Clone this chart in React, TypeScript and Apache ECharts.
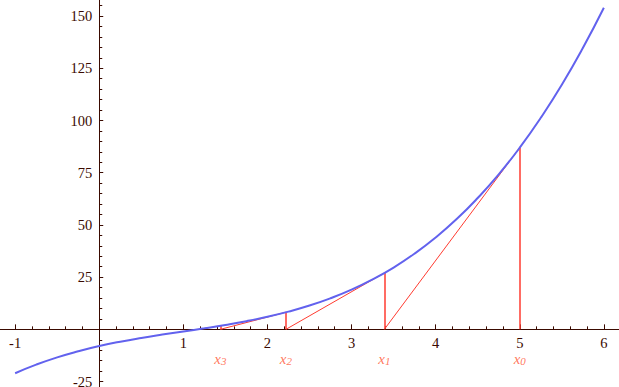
import React, { useEffect, useRef } from "react";
import * as echarts from "echarts";

// Curve f(x)
const curveX = [-1, -0.75, -0.5, -0.25, 0, 0.25, 0.5, 0.75, 1, 1.25, 1.5, 1.75, 2, 2.25, 2.5, 2.75, 3, 3.25, 3.5, 3.75, 4, 4.25, 4.5, 4.75, 5, 5.25, 5.5, 5.75, 6];
const curveY = [-21, -16.9, -13.4, -10.5, -8, -5.9, -4.1, -2.5, -1, 0.5, 2.1, 3.9, 6, 8.5, 11.4, 14.9, 19, 23.9, 29.6, 36.3, 44, 52.8, 62.9, 74.2, 87, 101.3, 117.1, 134.7, 154];

// Newton iterates x0..x3 and f at them
const newtonX = [5, 3.39, 2.22, 1.44];
const newtonY = [87, 27, 8.2, 1.7];
const newtonNames = ["0", "1", "2", "3"];

// Tick labels
const xMajorTicks = [-1, 1, 2, 3, 4, 5, 6];
const yMajorTicks = [-25, 25, 50, 75, 100, 125, 150];

const xMinorTicks = Array.from({ length: 36 }, (_, i) => Math.round((-1 + i * 0.2) * 10) / 10).filter((v) => v !== 0);
const yMinorTicks = Array.from({ length: 37 }, (_, i) => -25 + i * 5).filter((v) => v !== 0);

const AXIS = "#3a0a00";
const RED = "#ff3b30";
const BLUE = "#6262ee";
const LABEL_RED = "#ff5533";
const FONT = "serif";

const W = 619;
const H = 387;
const X_MIN = -1.18;
const X_MAX = 6.18;
const Y_MIN = -27.6;
const Y_MAX = 157.7;

export default function App() {
  const ref = useRef<HTMLDivElement>(null);
  useEffect(() => {
    if (!ref.current) return;
    const chart = echarts.init(ref.current, undefined, { renderer: "svg" });

    const verticals: any[] = [];
    const tangents: any[] = [];
    for (let i = 0; i < newtonX.length; i++) {
      verticals.push({ coords: [[newtonX[i], 0], [newtonX[i], newtonY[i]]] });
      if (i + 1 < newtonX.length) {
        tangents.push({ coords: [[newtonX[i], newtonY[i]], [newtonX[i + 1], 0]] });
      }
    }

    // place axes where the other axis is zero
    const zeroYpx = (H * Y_MAX) / (Y_MAX - Y_MIN);
    const zeroXpx = (W * -X_MIN) / (X_MAX - X_MIN);
    const xOffset = -(H - zeroYpx);
    const yOffset = -zeroXpx;

    const baseX = (extra: any) => ({
      type: "value",
      position: "bottom",
      offset: xOffset,
      min: X_MIN,
      max: X_MAX,
      splitLine: { show: false },
      axisLine: { show: true, onZero: false, lineStyle: { color: AXIS, width: 1 } },
      ...extra,
    });
    const baseY = (extra: any) => ({
      type: "value",
      position: "left",
      offset: yOffset,
      min: Y_MIN,
      max: Y_MAX,
      splitLine: { show: false },
      axisLine: { show: true, onZero: false, lineStyle: { color: AXIS, width: 1 } },
      ...extra,
    });

    chart.setOption({
      animation: false,
      backgroundColor: "#ffffff",
      textStyle: { fontFamily: FONT },
      grid: { left: 0, right: 0, top: 0, bottom: 0, containLabel: false, outerBoundsMode: "none" },
      xAxis: [
        baseX({
          axisTick: { show: true, inside: true, length: 5, customValues: xMajorTicks, lineStyle: { color: AXIS } },
          axisLabel: {
            show: true,
            customValues: xMajorTicks,
            margin: 6,
            color: AXIS,
            fontFamily: FONT,
            fontSize: 14.5,
            formatter: (v: number) => String(Math.round(v)),
          },
        }),
        baseX({
          axisTick: { show: true, inside: true, length: 3, customValues: xMinorTicks, lineStyle: { color: AXIS } },
          axisLabel: { show: false },
        }),
      ],
      yAxis: [
        baseY({
          axisTick: { show: true, inside: true, length: 4, customValues: yMajorTicks, lineStyle: { color: AXIS } },
          axisLabel: {
            show: true,
            customValues: yMajorTicks,
            margin: 7,
            color: AXIS,
            fontFamily: FONT,
            fontSize: 14.5,
            formatter: (v: number) => String(Math.round(v)),
          },
        }),
        baseY({
          axisTick: { show: true, inside: true, length: 3, customValues: yMinorTicks, lineStyle: { color: AXIS } },
          axisLabel: { show: false },
        }),
      ],
      series: [
        {
          type: "lines",
          coordinateSystem: "cartesian2d",
          xAxisIndex: 0,
          yAxisIndex: 0,
          z: 1,
          silent: true,
          lineStyle: { color: RED, width: 1, opacity: 1 },
          data: tangents,
        },
        {
          type: "lines",
          coordinateSystem: "cartesian2d",
          xAxisIndex: 0,
          yAxisIndex: 0,
          z: 1,
          silent: true,
          lineStyle: { color: RED, width: 1.5, opacity: 1 },
          data: verticals,
        },
        {
          type: "line",
          xAxisIndex: 0,
          yAxisIndex: 0,
          z: 3,
          smooth: true,
          symbol: "none",
          lineStyle: { color: BLUE, width: 2 },
          data: curveX.map((x, i) => [x, curveY[i]]),
        },
        {
          type: "scatter",
          xAxisIndex: 0,
          yAxisIndex: 0,
          symbolSize: 0,
          z: 4,
          data: newtonX.map((x, i) => ({ value: [x, -14.2], name: newtonNames[i] })),
          label: {
            show: true,
            position: "inside",
            fontFamily: FONT,
            formatter: (p: any) => `{x|x}{s|${p.name}}`,
            rich: {
              x: { fontFamily: FONT, fontStyle: "italic", fontSize: 15, lineHeight: 15, color: LABEL_RED, verticalAlign: "top" },
              s: { fontFamily: FONT, fontStyle: "italic", fontSize: 11, lineHeight: 11, color: LABEL_RED, verticalAlign: "bottom", padding: [6, 0, 0, 0] },
            },
          },
        },
      ],
    });
    return () => chart.dispose();
  }, []);
  return <div ref={ref} style={{ position: "fixed", left: 0, top: 0, width: W, height: H }} />;
}
